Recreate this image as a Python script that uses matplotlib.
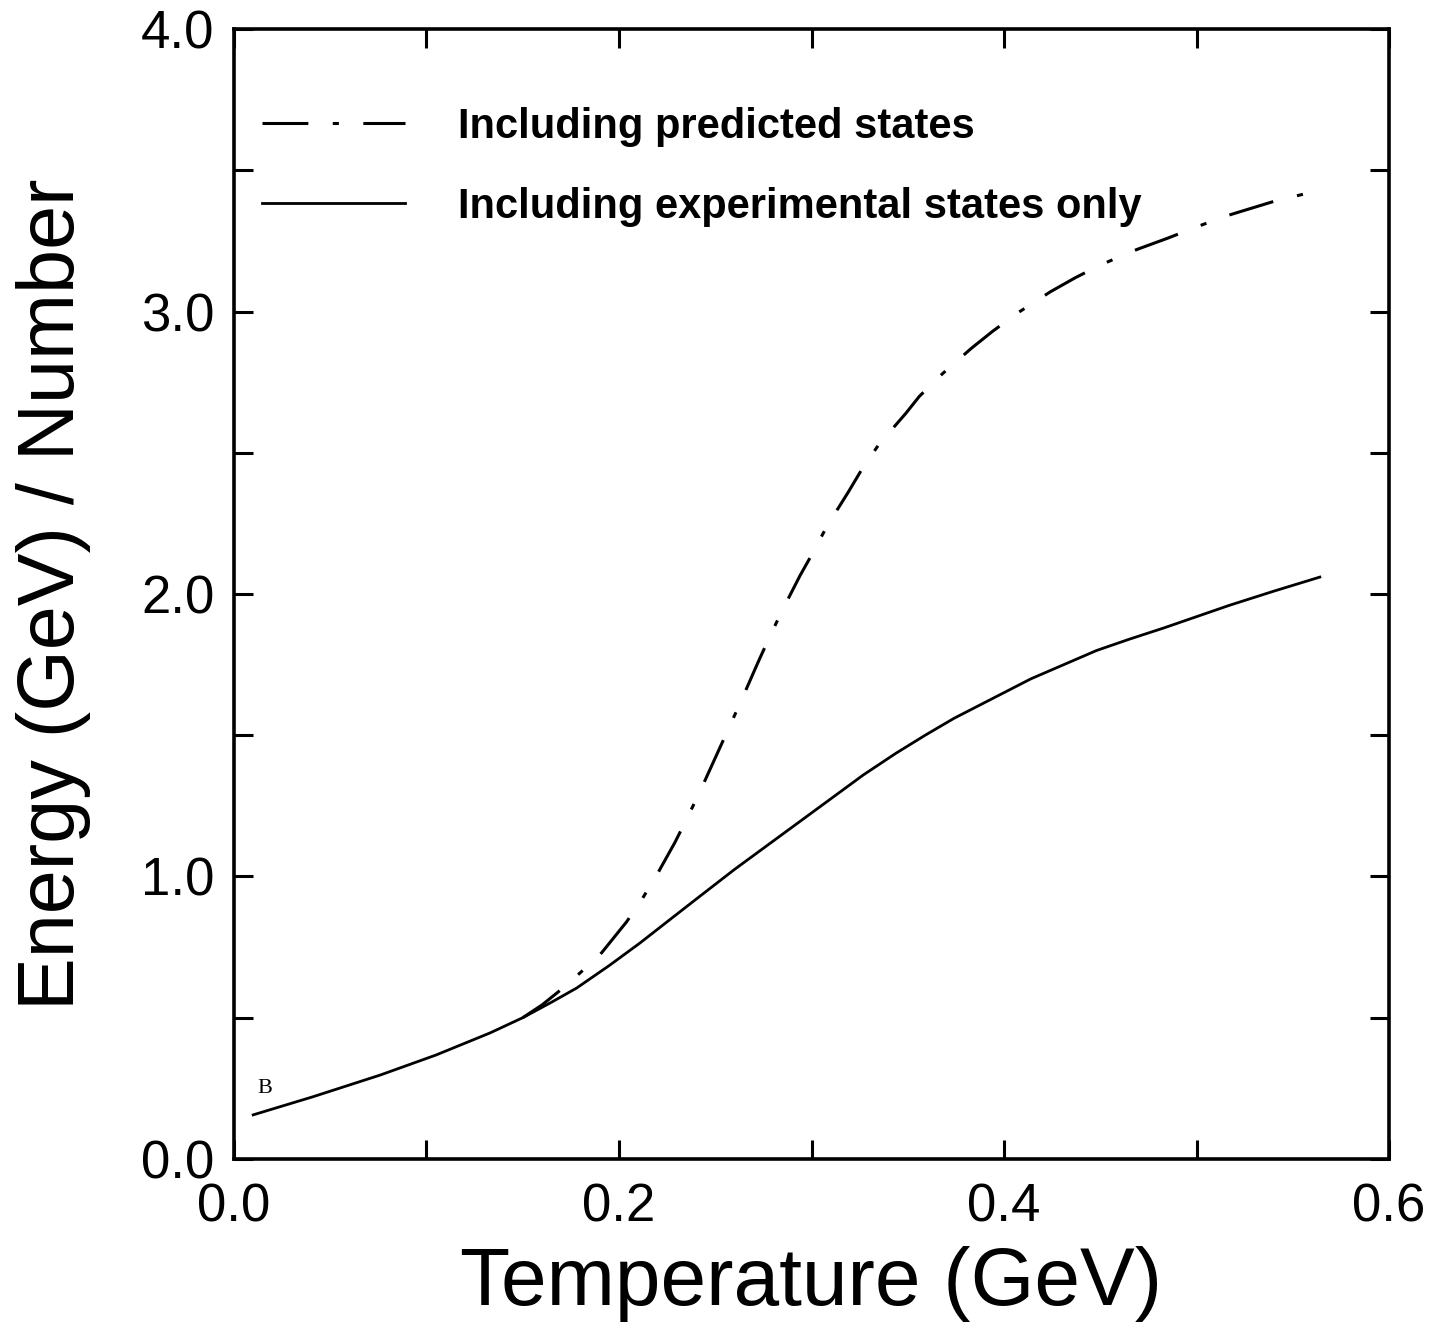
import matplotlib
matplotlib.use('Agg')
import matplotlib.pyplot as plt

# solid curve: experimental states only
t_exp = [0.01, 0.041, 0.076, 0.105, 0.133, 0.15, 0.165, 0.178, 0.195, 0.211, 0.226,
         0.242, 0.26, 0.277, 0.295, 0.31, 0.327, 0.344, 0.359, 0.374, 0.394, 0.414,
         0.431, 0.448, 0.465, 0.483, 0.50, 0.517, 0.54, 0.564]
e_exp = [0.156, 0.22, 0.297, 0.368, 0.446, 0.50, 0.555, 0.605, 0.685, 0.765, 0.845,
         0.93, 1.025, 1.11, 1.20, 1.275, 1.36, 1.437, 1.50, 1.56, 1.63, 1.70,
         1.75, 1.80, 1.84, 1.88, 1.92, 1.96, 2.01, 2.06]

# dash-dot curve: including predicted states
t_pred = [0.15, 0.16, 0.17, 0.18, 0.191, 0.204, 0.212, 0.220, 0.229, 0.236, 0.242,
          0.251, 0.257, 0.263, 0.272, 0.278, 0.285, 0.294, 0.301, 0.308, 0.319, 0.326,
          0.335, 0.349, 0.356, 0.368, 0.383, 0.394, 0.407, 0.424, 0.437, 0.45, 0.469,
          0.485, 0.50, 0.516, 0.54, 0.564]
e_pred = [0.50, 0.545, 0.60, 0.66, 0.73, 0.84, 0.92, 1.01, 1.12, 1.215, 1.30,
          1.435, 1.525, 1.615, 1.755, 1.845, 1.945, 2.065, 2.15, 2.24, 2.36, 2.44,
          2.53, 2.64, 2.70, 2.78, 2.87, 2.93, 2.995, 3.07, 3.12, 3.165, 3.22,
          3.26, 3.30, 3.34, 3.39, 3.43]

labels = ['Including predicted states', 'Including experimental states only']
x_ticks = [0.0, 0.1, 0.2, 0.3, 0.4, 0.5, 0.6]
x_ticklabels = ['0.0', '', '0.2', '', '0.4', '', '0.6']
y_ticks = [0.0, 0.5, 1.0, 1.5, 2.0, 2.5, 3.0, 3.5, 4.0]
y_ticklabels = ['0.0', '', '1.0', '', '2.0', '', '3.0', '', '4.0']

plt.rcParams['font.family'] = ['Liberation Sans', 'DejaVu Sans']

fig = plt.figure(figsize=(14.44, 13.26), dpi=100)
ax = fig.add_axes([0.162, 0.126, 0.800, 0.852])

ax.plot(t_pred, e_pred, color='black', lw=2.2, dashes=(15, 8, 2, 8),
        solid_joinstyle='round', dash_joinstyle='round', label=labels[0])
ax.plot(t_exp, e_exp, color='black', lw=2.0, solid_joinstyle='round',
        label=labels[1])

ax.text(0.012, 0.25, 'B', family=['Liberation Serif', 'DejaVu Serif'], fontsize=16,
        ha='left', va='center')

ax.set_xlim(0, 0.6)
ax.set_ylim(0, 4.0)
ax.set_xticks(x_ticks)
ax.set_xticklabels(x_ticklabels)
ax.set_yticks(y_ticks)
ax.set_yticklabels(y_ticklabels)
ax.tick_params(direction='in', length=14, width=2.2, top=True, right=True,
               labelsize=38)
ax.tick_params(axis='x', pad=17)
ax.tick_params(axis='y', pad=14)
for s in ax.spines.values():
    s.set_linewidth(2.6)

ax.set_xlabel('Temperature (GeV)', fontsize=59, labelpad=10)
ax.set_ylabel('Energy (GeV) / Number', fontsize=57, labelpad=36)

ax.legend(loc='upper left', bbox_to_anchor=(0.0095, 0.946), borderaxespad=0,
          frameon=False, handlelength=3.45, handletextpad=1.27, labelspacing=0.96,
          prop={'weight': 'bold', 'size': 30})

fig.savefig('out.png', dpi=100)
